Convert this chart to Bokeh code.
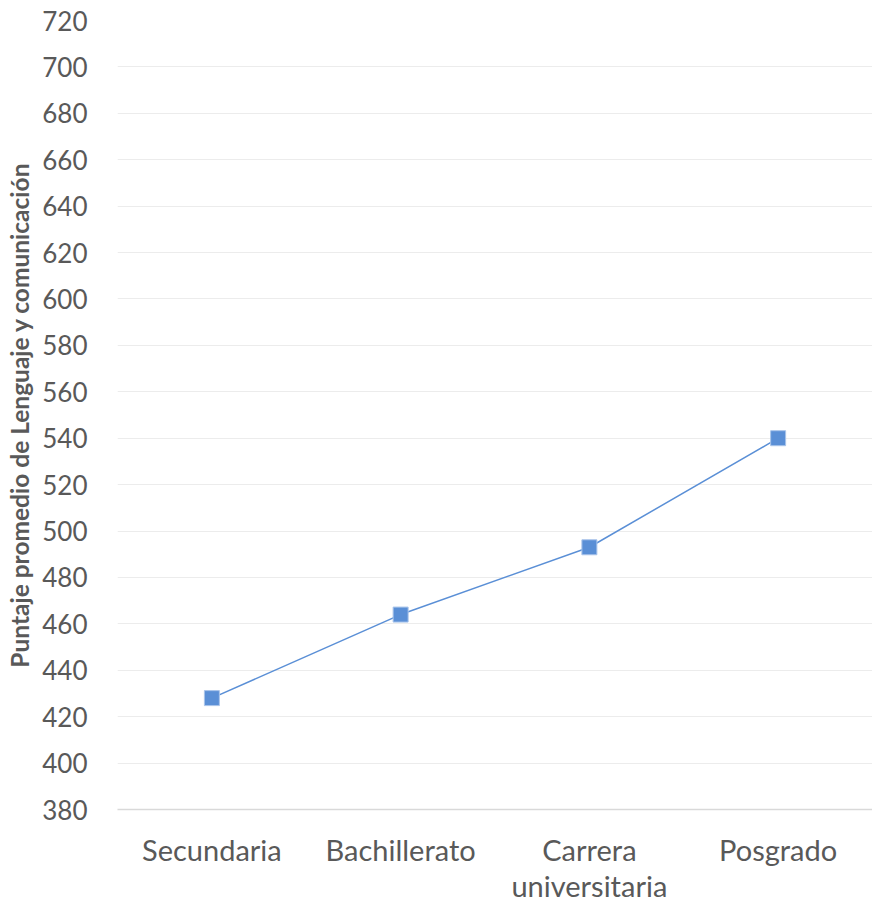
from bokeh.plotting import figure
from bokeh.models import Range1d, FixedTicker, CategoricalAxis, CustomJSTickFormatter
from bokeh.embed import file_html
from bokeh.resources import INLINE

categories = ["Secundaria", "Bachillerato", "Carrera universitaria", "Posgrado"]
label_line1 = ["Secundaria", "Bachillerato", "Carrera", "Posgrado"]
label_line2 = ["", "", "universitaria", ""]
scores = [428, 464, 493, 540]
y_ticks = list(range(380, 721, 20))

p = figure(x_range=categories, y_range=Range1d(380, 720), width=872, height=905,
           output_backend="svg", toolbar_location=None,
           min_border_left=117, min_border_right=0, min_border_top=20, min_border_bottom=94)
p.outline_line_color = None
p.background_fill_color = "white"
p.border_fill_color = "white"

p.line(categories, scores, line_color="#5a8fd6", line_width=1.5)
p.scatter(categories, scores, marker="square", size=15, fill_color="#5a8fd6",
          line_color="#a9c4ea", line_width=1)

p.yaxis.ticker = FixedTicker(ticks=y_ticks)
p.yaxis.axis_line_color = None
p.yaxis.major_tick_line_color = None
p.yaxis.minor_tick_line_color = None
p.yaxis.major_label_text_font = "Lato"
p.yaxis.major_label_text_font_size = "26px"
p.yaxis.major_label_text_color = "#595959"
p.yaxis.major_label_standoff = 24
p.yaxis.axis_label = "Puntaje promedio de Lenguaje y comunicación"
p.yaxis.axis_label_text_font = "Lato"
p.yaxis.axis_label_text_font_style = "bold"
p.yaxis.axis_label_text_font_size = "24.5px"
p.yaxis.axis_label_text_color = "#595959"
p.yaxis.axis_label_standoff = 5


def style_xaxis(ax, standoff):
    ax.major_tick_line_color = None
    ax.minor_tick_line_color = None
    ax.major_label_text_font = "Lato"
    ax.major_label_text_font_size = "29px"
    ax.major_label_text_color = "#595959"
    ax.major_label_standoff = standoff


xa = p.xaxis[0]
style_xaxis(xa, 16)
xa.axis_line_color = "#d9d9d9"
xa.axis_line_width = 1.5
xa.formatter = CustomJSTickFormatter(args=dict(cats=categories, lines=label_line1),
                                     code="return lines[cats.indexOf(tick)];")

xa2 = CategoricalAxis(formatter=CustomJSTickFormatter(args=dict(cats=categories, lines=label_line2),
                                                      code="return lines[cats.indexOf(tick)];"))
style_xaxis(xa2, -8)
xa2.axis_line_color = None
p.add_layout(xa2, "below")

p.xgrid.grid_line_color = None
p.ygrid.grid_line_color = "#ececec"
p.ygrid.grid_line_width = 1.2

open("out.html", "w").write(file_html(p, INLINE))
